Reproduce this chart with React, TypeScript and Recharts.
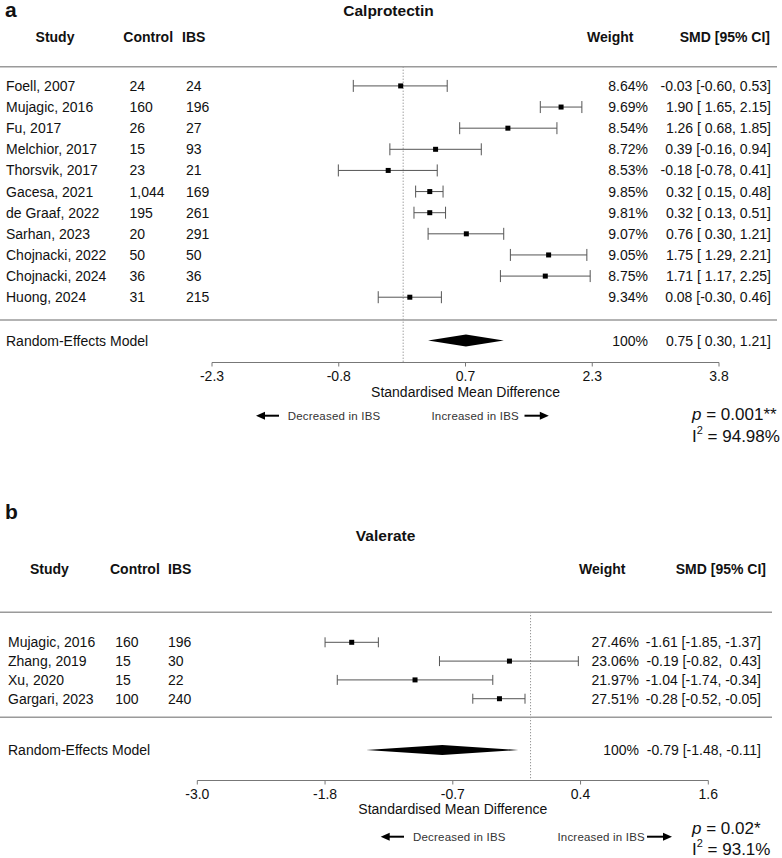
import React from 'react';
import { ComposedChart, Scatter, XAxis, YAxis, ErrorBar, ReferenceLine, ReferenceArea } from 'recharts';

const FONT = "'Liberation Sans', Arial, Helvetica, sans-serif";

// ---------- Panel a: Calprotectin ----------
const calStudies = ['Foell, 2007', 'Mujagic, 2016', 'Fu, 2017', 'Melchior, 2017', 'Thorsvik, 2017', 'Gacesa, 2021', 'de Graaf, 2022', 'Sarhan, 2023', 'Chojnacki, 2022', 'Chojnacki, 2024', 'Huong, 2024'];
const calControl = [24, 160, 26, 15, 23, 1044, 195, 20, 50, 36, 31];
const calIBS = [24, 196, 27, 93, 21, 169, 261, 291, 50, 36, 215];
const calWeight = [8.64, 9.69, 8.54, 8.72, 8.53, 9.85, 9.81, 9.07, 9.05, 8.75, 9.34];
const calEst = [-0.03, 1.90, 1.26, 0.39, -0.18, 0.32, 0.32, 0.76, 1.75, 1.71, 0.08];
const calLower = [-0.60, 1.65, 0.68, -0.16, -0.78, 0.15, 0.13, 0.30, 1.29, 1.17, -0.30];
const calUpper = [0.53, 2.15, 1.85, 0.94, 0.41, 0.48, 0.51, 1.21, 2.21, 2.25, 0.46];
const calPooled = [0.75, 0.30, 1.21]; // est, lower, upper
const calTickValues = [-2.3, -0.775, 0.75, 2.275, 3.8];
const calTickLabels = ['-2.3', '-0.8', '0.7', '2.3', '3.8'];
const calStats = ['0.001**', '94.98%'];

// ---------- Panel b: Valerate ----------
const valStudies = ['Mujagic, 2016', 'Zhang, 2019', 'Xu, 2020', 'Gargari, 2023'];
const valControl = [160, 15, 15, 100];
const valIBS = [196, 30, 22, 240];
const valWeight = [27.46, 23.06, 21.97, 27.51];
const valEst = [-1.61, -0.19, -1.04, -0.28];
const valLower = [-1.85, -0.82, -1.74, -0.52];
const valUpper = [-1.37, 0.43, -0.34, -0.05];
const valPooled = [-0.79, -1.48, -0.11];
const valTickValues = [-3.0, -1.85, -0.7, 0.45, 1.6];
const valTickLabels = ['-3.0', '-1.8', '-0.7', '0.4', '1.6'];
const valStats = ['0.02*', '93.1%'];

const f2 = (v: number) => v.toFixed(2);

function buildSmd(est: number[], lo: number[], hi: number[], pooled: number[]) {
  const allLo = lo.concat([pooled[1]]);
  const allHi = hi.concat([pooled[2]]);
  const padLo = allLo.some((v) => v < 0);
  const padHi = allHi.some((v) => v < 0);
  const fmt = (e: number, l: number, h: number) =>
    `${f2(e)} [${padLo && l >= 0 ? ' ' : ''}${f2(l)}, ${padHi && h >= 0 ? ' ' : ''}${f2(h)}]`;
  return {
    rows: est.map((e, i) => fmt(e, lo[i], hi[i])),
    pooled: fmt(pooled[0], pooled[1], pooled[2]),
  };
}

type Layout = {
  top: number; height: number; xLeft: number; xRight: number;
  yMin: number; yMax: number; plotTop: number; plotBottom: number;
  reY: number; zeroTop: number;
  colName: number; colControl: number; colIBS: number; colWeight: number; colSmd: number;
  cap: number; square: number; diamondHalf: number;
};

const layoutA: Layout = {
  top: 0, height: 460, xLeft: 212, xRight: 719,
  yMin: -2.09, yMax: 13, plotTop: 43.66, plotBottom: 362.5,
  reY: -1.05, zeroTop: 11.91,
  colName: 6, colControl: 129.5, colIBS: 186, colWeight: 648, colSmd: 771,
  cap: 6, square: 5, diamondHalf: 0.28,
};

const layoutB: Layout = {
  top: 470, height: 388, xLeft: 197.3, xRight: 708.3,
  yMin: -3.35, yMax: 6, plotTop: 604.7, plotBottom: 780.5,
  reY: -1.73, zeroTop: 5.6,
  colName: 8, colControl: 115.3, colIBS: 168, colWeight: 639, colSmd: 761,
  cap: 5, square: 5, diamondHalf: 0.27,
};

const txt = { fontFamily: FONT, fontSize: 14, fill: '#111' } as const;

function ForestChart(props: {
  L: Layout; studies: string[]; control: number[]; ibs: number[]; weight: number[];
  est: number[]; lo: number[]; hi: number[]; pooled: number[];
  ticks: number[]; tickLabels: string[];
}) {
  const { L, studies, control, ibs, weight, est, lo, hi, pooled, ticks, tickLabels } = props;
  const smd = buildSmd(est, lo, hi, pooled);
  const n = studies.length;
  const rows = studies.map((s, i) => ({
    x: est[i],
    y: n - i,
    err: [est[i] - lo[i], hi[i] - est[i]],
    name: s,
    control: control[i].toLocaleString('en-US'),
    ibs: ibs[i].toLocaleString('en-US'),
    weight: `${weight[i].toFixed(2)}%`,
    smd: smd.rows[i],
  }));
  const pooledRow = [{
    x: pooled[0], y: L.reY, name: 'Random-Effects Model', weight: '100%', smd: smd.pooled,
  }];
  const xAxisH = 30;
  const margin = {
    top: L.plotTop - L.top,
    bottom: L.top + L.height - L.plotBottom - xAxisH,
    left: L.xLeft,
    right: 782 - L.xRight,
  };

  const rowText = (p: any) => {
    const { cy, payload } = p;
    return (
      <g>
        <text x={L.colName} y={cy} dominantBaseline="central" {...txt}>{payload.name}</text>
        {payload.control !== undefined && (
          <text x={L.colControl} y={cy} dominantBaseline="central" {...txt}>{payload.control}</text>
        )}
        {payload.ibs !== undefined && (
          <text x={L.colIBS} y={cy} dominantBaseline="central" {...txt}>{payload.ibs}</text>
        )}
        <text x={L.colWeight} y={cy} dominantBaseline="central" textAnchor="end" {...txt}>{payload.weight}</text>
        <text x={L.colSmd} y={cy} dominantBaseline="central" textAnchor="end" xmlSpace="preserve"
          style={{ whiteSpace: 'pre' }} {...txt}>{payload.smd}</text>
      </g>
    );
  };

  const squareShape = (p: any) => {
    const s = L.square;
    return <rect x={p.cx - s / 2} y={p.cy - s / 2} width={s} height={s} fill="#000" />;
  };

  const diamondShape = (p: any) => {
    const { x, y, width, height } = p;
    const pts = `${x},${y + height / 2} ${x + width / 2},${y} ${x + width},${y + height / 2} ${x + width / 2},${y + height}`;
    return <polygon points={pts} fill="#000" />;
  };

  return (
    <div style={{ position: 'absolute', left: 0, top: L.top, width: 782, height: L.height }}>
      <ComposedChart width={782} height={L.height} margin={margin} style={{ overflow: 'visible' }}>
        <XAxis
          type="number" dataKey="x" domain={[ticks[0], ticks[ticks.length - 1]]} ticks={ticks}
          interval={0} height={xAxisH}
          tickFormatter={(v: number) => tickLabels[ticks.indexOf(v)]}
          axisLine={{ stroke: '#777', strokeWidth: 1 }} tickLine={{ stroke: '#777', strokeWidth: 1 }}
          tickSize={4} tickMargin={5}
          tick={{ fill: '#111', fontSize: 14, fontFamily: FONT }}
        />
        <YAxis type="number" dataKey="y" domain={[L.yMin, L.yMax]} hide width={0} />
        <ReferenceLine
          segment={[{ x: 0, y: L.zeroTop }, { x: 0, y: L.yMin }]}
          stroke="#777" strokeWidth={1} strokeDasharray="1 2" ifOverflow="visible"
        />
        <ReferenceArea
          x1={pooled[1]} x2={pooled[2]} y1={L.reY - L.diamondHalf} y2={L.reY + L.diamondHalf}
          shape={diamondShape} ifOverflow="visible"
        />
        <Scatter data={rows} shape={rowText} isAnimationActive={false} />
        <Scatter data={pooledRow} shape={rowText} isAnimationActive={false} />
        <Scatter data={rows} shape={squareShape} isAnimationActive={false}>
          <ErrorBar dataKey="err" direction="x" width={L.cap} stroke="#555" strokeWidth={1} isAnimationActive={false} />
        </Scatter>
      </ComposedChart>
    </div>
  );
}

function Arrow({ x1, x2, y, dir }: { x1: number; x2: number; y: number; dir: 'left' | 'right' }) {
  const head = 9;
  const hh = 4;
  if (dir === 'left') {
    return (
      <g>
        <line x1={x1 + head - 1} x2={x2} y1={y} y2={y} stroke="#000" strokeWidth={2} />
        <polygon points={`${x1},${y} ${x1 + head},${y - hh} ${x1 + head},${y + hh}`} fill="#000" />
      </g>
    );
  }
  return (
    <g>
      <line x1={x1} x2={x2 - head + 1} y1={y} y2={y} stroke="#000" strokeWidth={2} />
      <polygon points={`${x2},${y} ${x2 - head},${y - hh} ${x2 - head},${y + hh}`} fill="#000" />
    </g>
  );
}

function Overlay() {
  const bold = { fontFamily: FONT, fontSize: 14, fontWeight: 700, fill: '#111' } as const;
  const small = { fontFamily: FONT, fontSize: 11.5, fill: '#333', letterSpacing: 0.2 } as const;
  const stat = { fontFamily: FONT, fontSize: 17, fill: '#111' } as const;
  const sep = { stroke: '#9a9a9a', strokeWidth: 1.5 };
  return (
    <svg width={782} height={858} style={{ position: 'absolute', left: 0, top: 0, pointerEvents: 'none' }}>
      {/* Panel a */}
      <text x={5} y={17} fontFamily={FONT} fontSize={21} fontWeight={700} fill="#111">a</text>
      <text x={388.5} y={10} textAnchor="middle" dominantBaseline="central" fontFamily={FONT} fontSize={15.5} fontWeight={700} fill="#111">Calprotectin</text>
      <text x={55} y={36.7} textAnchor="middle" dominantBaseline="central" {...bold}>Study</text>
      <text x={123.3} y={36.7} dominantBaseline="central" {...bold}>Control</text>
      <text x={182} y={36.7} dominantBaseline="central" {...bold}>IBS</text>
      <text x={587} y={36.7} dominantBaseline="central" {...bold}>Weight</text>
      <text x={770} y={36.7} textAnchor="end" dominantBaseline="central" {...bold}>SMD [95% CI]</text>
      <line x1={0} x2={777} y1={66.7} y2={66.7} {...sep} />
      <line x1={0} x2={777} y1={320} y2={320} {...sep} />
      <text x={465.5} y={392} textAnchor="middle" dominantBaseline="central" fontFamily={FONT} fontSize={14} fill="#111">Standardised Mean Difference</text>
      <Arrow x1={256} x2={279} y={415.7} dir="left" />
      <text x={287.7} y={415.7} dominantBaseline="central" {...small}>Decreased in IBS</text>
      <text x={519} y={415.7} textAnchor="end" dominantBaseline="central" {...small}>Increased in IBS</text>
      <Arrow x1={524.5} x2={548.8} y={415.7} dir="right" />
      <text x={692} y={414} dominantBaseline="central" {...stat}><tspan fontStyle="italic">p</tspan> = {calStats[0]}</text>
      <text x={692} y={436} dominantBaseline="central" {...stat}>I<tspan fontSize={11} dy={-6}>2</tspan><tspan dy={6}> = {calStats[1]}</tspan></text>

      {/* Panel b */}
      <text x={5} y={519.3} fontFamily={FONT} fontSize={21} fontWeight={700} fill="#111">b</text>
      <text x={385.6} y={535} textAnchor="middle" dominantBaseline="central" fontFamily={FONT} fontSize={15.5} fontWeight={700} fill="#111">Valerate</text>
      <text x={30} y={569.3} dominantBaseline="central" {...bold}>Study</text>
      <text x={110} y={569.3} dominantBaseline="central" {...bold}>Control</text>
      <text x={168} y={569.3} dominantBaseline="central" {...bold}>IBS</text>
      <text x={579} y={569.3} dominantBaseline="central" {...bold}>Weight</text>
      <text x={766} y={569.3} textAnchor="end" dominantBaseline="central" {...bold}>SMD [95% CI]</text>
      <line x1={0} x2={772} y1={612.3} y2={612.3} {...sep} />
      <line x1={0} x2={772} y1={717.3} y2={717.3} {...sep} />
      <text x={452.8} y={809} textAnchor="middle" dominantBaseline="central" fontFamily={FONT} fontSize={14} fill="#111">Standardised Mean Difference</text>
      <Arrow x1={380.7} x2={404} y={836.7} dir="left" />
      <text x={413} y={836.7} dominantBaseline="central" {...small}>Decreased in IBS</text>
      <text x={645} y={836.7} textAnchor="end" dominantBaseline="central" {...small}>Increased in IBS</text>
      <Arrow x1={647} x2={672} y={836.7} dir="right" />
      <text x={692} y={828} dominantBaseline="central" {...stat}><tspan fontStyle="italic">p</tspan> = {valStats[0]}</text>
      <text x={692} y={849} dominantBaseline="central" {...stat}>I<tspan fontSize={11} dy={-6}>2</tspan><tspan dy={6}> = {valStats[1]}</tspan></text>
    </svg>
  );
}

export default function App() {
  return (
    <div style={{ position: 'absolute', left: 0, top: 0, width: 782, height: 858, background: '#fff', overflow: 'hidden' }}>
      <ForestChart
        L={layoutA} studies={calStudies} control={calControl} ibs={calIBS} weight={calWeight}
        est={calEst} lo={calLower} hi={calUpper} pooled={calPooled}
        ticks={calTickValues} tickLabels={calTickLabels}
      />
      <ForestChart
        L={layoutB} studies={valStudies} control={valControl} ibs={valIBS} weight={valWeight}
        est={valEst} lo={valLower} hi={valUpper} pooled={valPooled}
        ticks={valTickValues} tickLabels={valTickLabels}
      />
      <Overlay />
    </div>
  );
}
